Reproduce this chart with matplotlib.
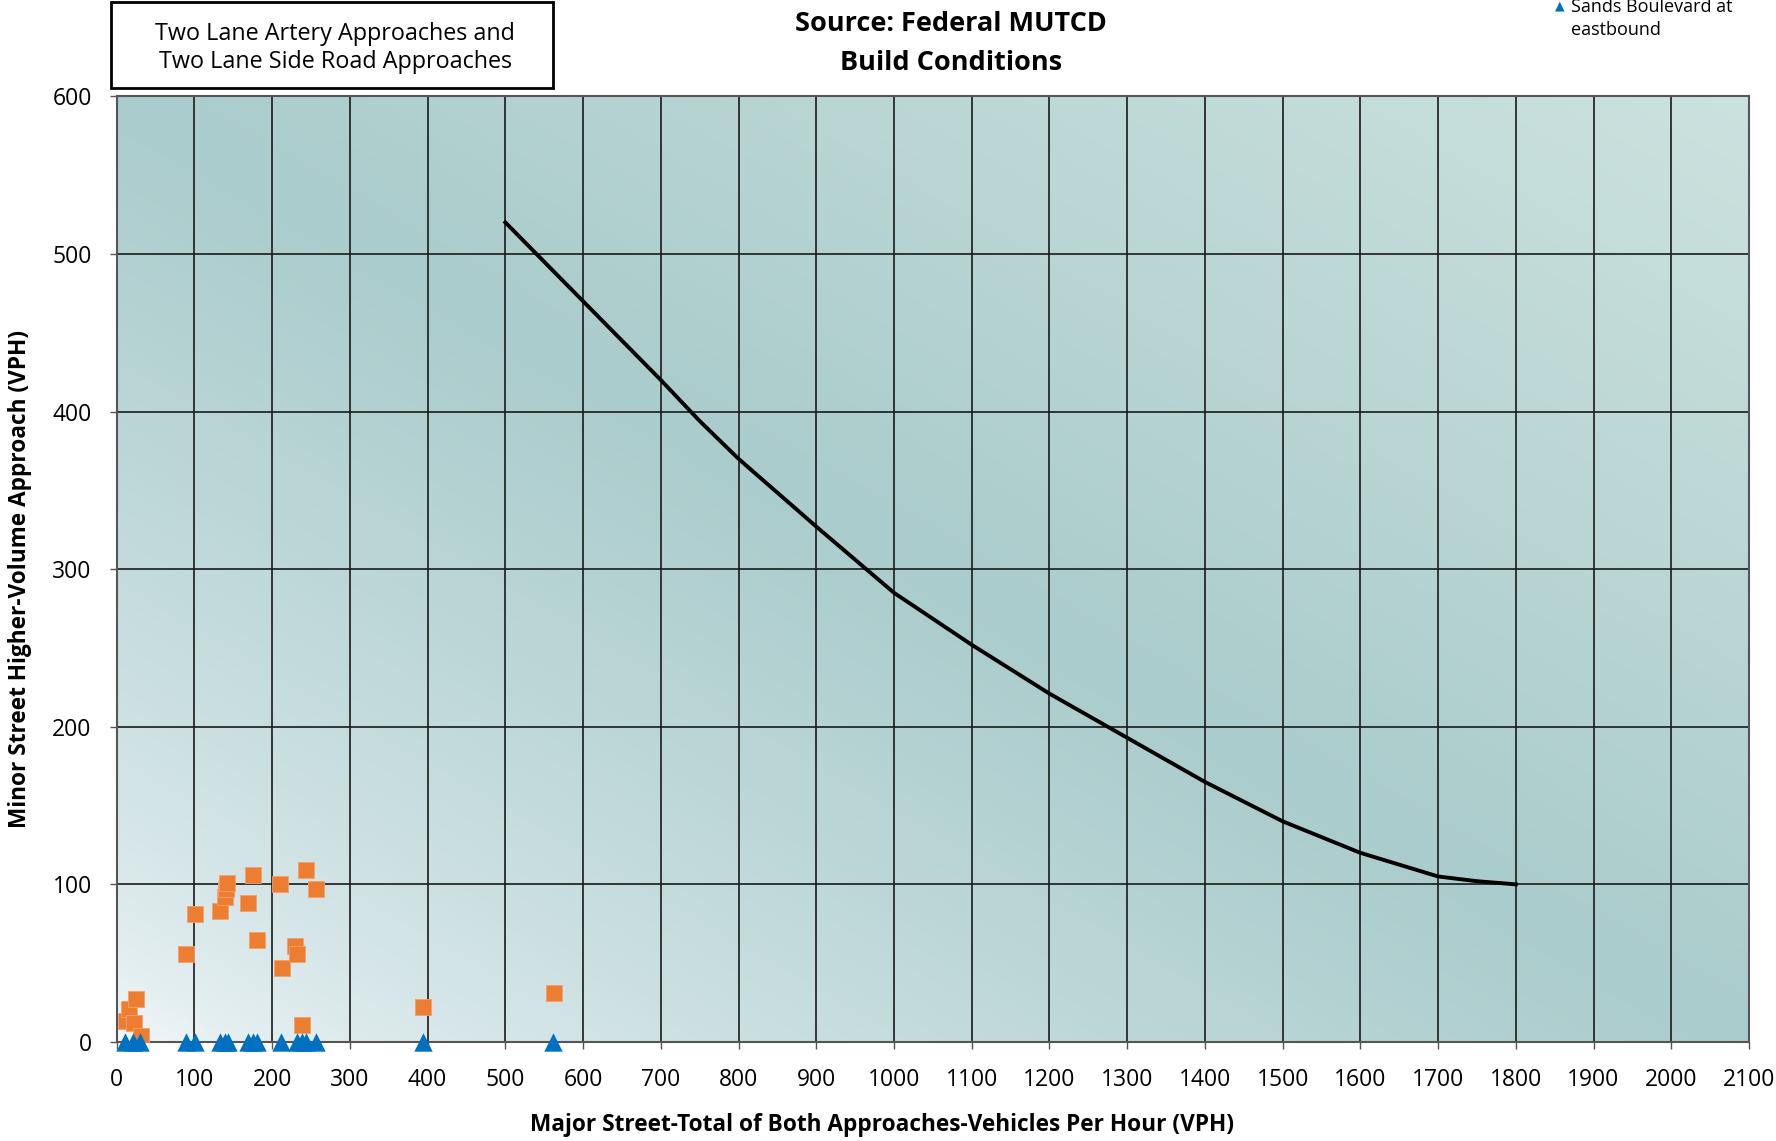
import numpy as np
import matplotlib.pyplot as plt
from matplotlib.patches import Rectangle

plt.rcParams['font.family'] = ['Open Sans', 'DejaVu Sans']

# warrant threshold curve (major street total vs minor street high-volume approach)
curve_major = [500, 600, 700, 750, 800, 900, 1000, 1100, 1200, 1300, 1400, 1500, 1600, 1700, 1750, 1800]
curve_minor = [520, 470, 420, 394, 370, 327, 285, 252, 221, 193, 165, 140, 120, 105, 102, 100]

# intersection hourly volumes (orange squares)
sq_major = [12, 16, 22, 25, 31, 89, 101, 133, 139, 140, 142, 169, 176, 181,
            210, 213, 230, 232, 239, 244, 256, 394, 562]
sq_minor = [13, 21, 12, 27, 4, 56, 81, 83, 92, 97, 101, 88, 106, 65,
            100, 47, 61, 56, 11, 109, 97, 22, 31]

# Sands Boulevard at ... eastbound (blue triangles)
tri_major = [11, 21, 30, 89, 101, 133, 139, 143, 169, 176, 181, 211,
             232, 238, 244, 257, 394, 561]
tri_minor = [0] * len(tri_major)

xticks = list(range(0, 2101, 100))
yticks = list(range(0, 601, 100))

fig = plt.figure(figsize=(17.76, 11.41), dpi=100)
ax = fig.add_axes([0.0657, 0.0868, 0.9191, 0.8288])

# background gradient: light at bottom-left, teal in the middle, a bit lighter top-right
u, v = np.meshgrid(np.linspace(0, 1, 300), np.linspace(0, 1, 200))
t = (u + v) / 2
light = np.array([0.96, 0.975, 0.99])
mid = np.array([0.67, 0.80, 0.80])
far = np.array([0.80, 0.885, 0.875])
s1 = np.clip(t / 0.5, 0, 1)[..., None] ** 0.6
s2 = np.clip((t - 0.5) / 0.5, 0, 1)[..., None]
img = light + (mid - light) * s1
img = img + (far - mid) * s2
ax.imshow(img, extent=[0, 2100, 0, 600], origin='lower', aspect='auto', zorder=0)

ax.set_xlim(0, 2100)
ax.set_ylim(0, 600)
ax.set_xticks(xticks)
ax.set_yticks(yticks)
ax.grid(True, color='#1a1a1a', linewidth=1.2)
ax.tick_params(labelsize=16.5, length=5, width=1, color='#555555')
ax.tick_params(axis='x', pad=14)
ax.tick_params(axis='y', pad=13)
for sp in ax.spines.values():
    sp.set_color('#555555')
    sp.set_linewidth(1.5)

ax.plot(curve_major, curve_minor, color='black', linewidth=2.8, zorder=3)
ax.scatter(sq_major, sq_minor, marker='s', s=125, color='#ED7D31',
           edgecolors='#f4a06a', linewidths=0.6, zorder=4)
ax.scatter(tri_major, tri_minor, marker='^', s=175, color='#0070C0',
           linewidths=0, zorder=5, clip_on=False)

ax.set_xlabel('Major Street-Total of Both Approaches-Vehicles Per Hour (VPH)',
              fontsize=16.3, fontweight='bold', va='center', ha='center')
ax.xaxis.set_label_coords(0.469, -0.0878)
ax.set_ylabel('Minor Street Higher-Volume Approach (VPH)',
              fontsize=16.3, fontweight='bold', va='center', ha='center')
ax.yaxis.set_label_coords(-0.0592, 0.49)

fig.text(0.5355, 0.979, 'Source: Federal MUTCD', ha='center', va='center',
         fontsize=19.5, fontweight='bold')
fig.text(0.5355, 0.945, 'Build Conditions', ha='center', va='center',
         fontsize=19.5, fontweight='bold')

fig.add_artist(Rectangle((0.0625, 0.9229), 0.249, 0.0751, transform=fig.transFigure,
                         facecolor='white', edgecolor='black', linewidth=2))
fig.text(0.1888, 0.9705, 'Two Lane Artery Approaches and', ha='center', va='center',
         fontsize=16.8)
fig.text(0.1888, 0.9455, 'Two Lane Side Road Approaches', ha='center', va='center',
         fontsize=16.8)

fig.text(0.8785, 0.9945, '\u25B2', ha='center', va='center', fontsize=9,
         color='#0070C0', family=['DejaVu Sans'])
fig.text(0.8848, 0.994, 'Sands Boulevard at', ha='left', va='center', fontsize=13)
fig.text(0.8848, 0.974, 'eastbound', ha='left', va='center', fontsize=13)

fig.savefig('out.png', dpi=100)
